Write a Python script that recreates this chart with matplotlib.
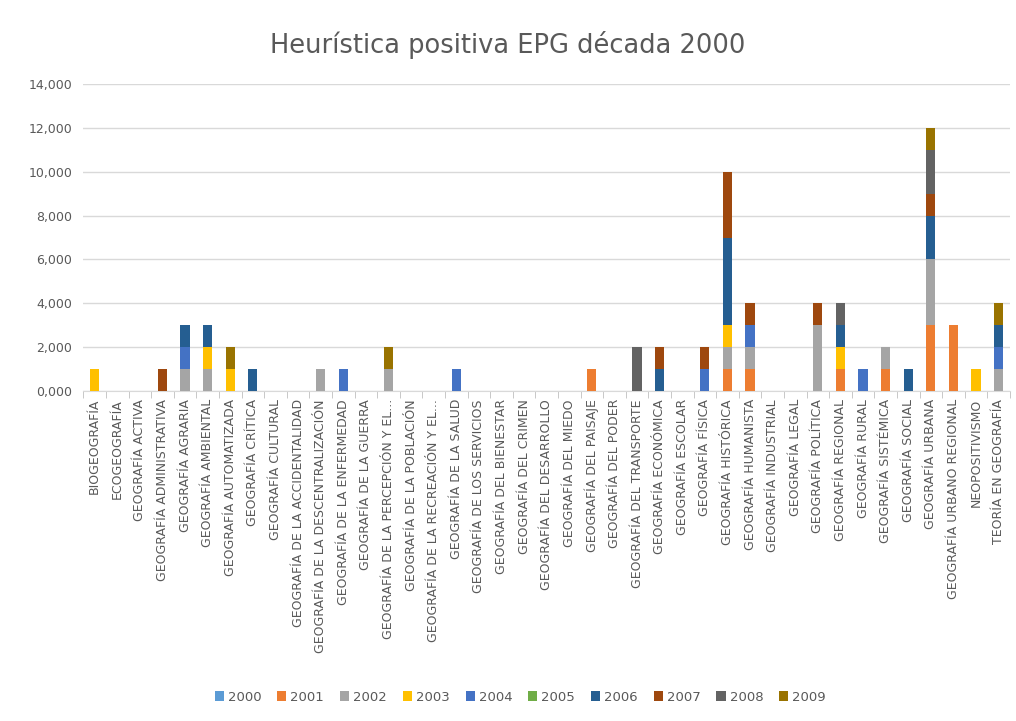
import numpy as np
import matplotlib.pyplot as plt
from matplotlib.ticker import FuncFormatter, FixedLocator

# --- datos ---
categorias = [
    "BIOGEOGRAFÍA", "ECOGEOGRAFÍA", "GEOGRAFÍA ACTIVA", "GEOGRAFÍA ADMINISTRATIVA",
    "GEOGRAFÍA AGRARIA", "GEOGRAFÍA AMBIENTAL", "GEOGRAFÍA AUTOMATIZADA",
    "GEOGRAFÍA CRÍTICA", "GEOGRAFÍA CULTURAL", "GEOGRAFÍA DE LA ACCIDENTALIDAD",
    "GEOGRAFÍA DE LA DESCENTRALIZACIÓN", "GEOGRAFÍA DE LA ENFERMEDAD",
    "GEOGRAFÍA DE LA GUERRA", "GEOGRAFÍA DE LA PERCEPCIÓN Y EL...",
    "GEOGRAFÍA DE LA POBLACIÓN", "GEOGRAFÍA DE LA RECREACIÓN Y EL...",
    "GEOGRAFÍA DE LA SALUD", "GEOGRAFÍA DE LOS SERVICIOS", "GEOGRAFÍA DEL BIENESTAR",
    "GEOGRAFÍA DEL CRIMEN", "GEOGRAFÍA DEL DESARROLLO", "GEOGRAFÍA DEL MIEDO",
    "GEOGRAFÍA DEL PAISAJE", "GEOGRAFÍA DEL PODER", "GEOGRAFÍA DEL TRANSPORTE",
    "GEOGRAFÍA ECONÓMICA", "GEOGRAFÍA ESCOLAR", "GEOGRAFÍA FÍSICA",
    "GEOGRAFÍA HISTÓRICA", "GEOGRAFÍA HUMANISTA", "GEOGRAFÍA INDUSTRIAL",
    "GEOGRAFÍA LEGAL", "GEOGRAFÍA POLÍTICA", "GEOGRAFÍA REGIONAL", "GEOGRAFÍA RURAL",
    "GEOGRAFÍA SISTÉMICA", "GEOGRAFÍA SOCIAL", "GEOGRAFÍA URBANA",
    "GEOGRAFÍA URBANO REGIONAL", "NEOPOSITIVISMO", "TEORÍA EN GEOGRAFÍA",
]

anios = ["2000", "2001", "2002", "2003", "2004", "2005", "2006", "2007", "2008", "2009"]

# un valor por categoria (41), en el mismo orden
v2000 = [0, 0, 0, 0, 0, 0, 0, 0, 0, 0, 0, 0, 0, 0, 0, 0, 0, 0, 0, 0, 0, 0, 0, 0, 0, 0, 0, 0, 0, 0, 0, 0, 0, 0, 0, 0, 0, 0, 0, 0, 0]
v2001 = [0, 0, 0, 0, 0, 0, 0, 0, 0, 0, 0, 0, 0, 0, 0, 0, 0, 0, 0, 0, 0, 0, 1, 0, 0, 0, 0, 0, 1, 1, 0, 0, 0, 1, 0, 1, 0, 3, 3, 0, 0]
v2002 = [0, 0, 0, 0, 1, 1, 0, 0, 0, 0, 1, 0, 0, 1, 0, 0, 0, 0, 0, 0, 0, 0, 0, 0, 0, 0, 0, 0, 1, 1, 0, 0, 3, 0, 0, 1, 0, 3, 0, 0, 1]
v2003 = [1, 0, 0, 0, 0, 1, 1, 0, 0, 0, 0, 0, 0, 0, 0, 0, 0, 0, 0, 0, 0, 0, 0, 0, 0, 0, 0, 0, 1, 0, 0, 0, 0, 1, 0, 0, 0, 0, 0, 1, 0]
v2004 = [0, 0, 0, 0, 1, 0, 0, 0, 0, 0, 0, 1, 0, 0, 0, 0, 1, 0, 0, 0, 0, 0, 0, 0, 0, 0, 0, 1, 0, 1, 0, 0, 0, 0, 1, 0, 0, 0, 0, 0, 1]
v2005 = [0, 0, 0, 0, 0, 0, 0, 0, 0, 0, 0, 0, 0, 0, 0, 0, 0, 0, 0, 0, 0, 0, 0, 0, 0, 0, 0, 0, 0, 0, 0, 0, 0, 0, 0, 0, 0, 0, 0, 0, 0]
v2006 = [0, 0, 0, 0, 1, 1, 0, 1, 0, 0, 0, 0, 0, 0, 0, 0, 0, 0, 0, 0, 0, 0, 0, 0, 0, 1, 0, 0, 4, 0, 0, 0, 0, 1, 0, 0, 1, 2, 0, 0, 1]
v2007 = [0, 0, 0, 1, 0, 0, 0, 0, 0, 0, 0, 0, 0, 0, 0, 0, 0, 0, 0, 0, 0, 0, 0, 0, 0, 1, 0, 1, 3, 1, 0, 0, 1, 0, 0, 0, 0, 1, 0, 0, 0]
v2008 = [0, 0, 0, 0, 0, 0, 0, 0, 0, 0, 0, 0, 0, 0, 0, 0, 0, 0, 0, 0, 0, 0, 0, 0, 2, 0, 0, 0, 0, 0, 0, 0, 0, 1, 0, 0, 0, 2, 0, 0, 0]
v2009 = [0, 0, 0, 0, 0, 0, 1, 0, 0, 0, 0, 0, 0, 1, 0, 0, 0, 0, 0, 0, 0, 0, 0, 0, 0, 0, 0, 0, 0, 0, 0, 0, 0, 0, 0, 0, 0, 1, 0, 0, 1]

series = [v2000, v2001, v2002, v2003, v2004, v2005, v2006, v2007, v2008, v2009]

colores = ["#5B9BD5", "#ED7D31", "#A5A5A5", "#FFC000", "#4472C4",
           "#70AD47", "#255E91", "#9E480E", "#636363", "#997300"]

# --- figura ---
fig = plt.figure(figsize=(10.16, 7.21), dpi=100)
ax = fig.add_axes([0.082, 0.458, 0.912, 0.425])

x = np.arange(len(categorias))
base = np.zeros(len(categorias))
for anio, vals, col in zip(anios, series, colores):
    vals = np.array(vals, dtype=float)
    ax.bar(x, vals, bottom=base, width=0.4, color=col, label=anio, zorder=3)
    base += vals

ax.set_xlim(-0.5, len(categorias) - 0.5)
ax.set_ylim(0, 14)
ax.set_yticks(np.arange(0, 15, 2))
# formato con coma decimal, como en el original
ax.yaxis.set_major_formatter(FuncFormatter(lambda v, p: f"{v:.3f}".replace(".", ",")))
ax.grid(axis="y", color="#D9D9D9", linewidth=1, zorder=0)

ax.set_xticks(x)
ax.set_xticklabels(categorias, rotation=90, fontsize=9, color="#595959")
ax.tick_params(axis="x", which="major", length=0, pad=6)
ax.xaxis.set_minor_locator(FixedLocator(np.arange(-0.5, len(categorias), 1)))
ax.tick_params(axis="x", which="minor", length=5, color="#BFBFBF", direction="out")
ax.tick_params(axis="y", length=0, labelsize=9, labelcolor="#595959", pad=8)

for s in ["top", "right", "left"]:
    ax.spines[s].set_visible(False)
ax.spines["bottom"].set_color("#D9D9D9")

fig.text(0.5, 0.937, "Heurística positiva EPG década 2000", ha="center", va="center",
         fontsize=18.5, color="#595959")

handles, labels = ax.get_legend_handles_labels()
fig.legend(handles, labels, loc="center", bbox_to_anchor=(0.512, 0.033), ncol=10,
           frameon=False, fontsize=9.5, handlelength=0.7, handleheight=0.7,
           handletextpad=0.3, columnspacing=1.2, labelcolor="#595959")

fig.savefig("out.png", dpi=100)
